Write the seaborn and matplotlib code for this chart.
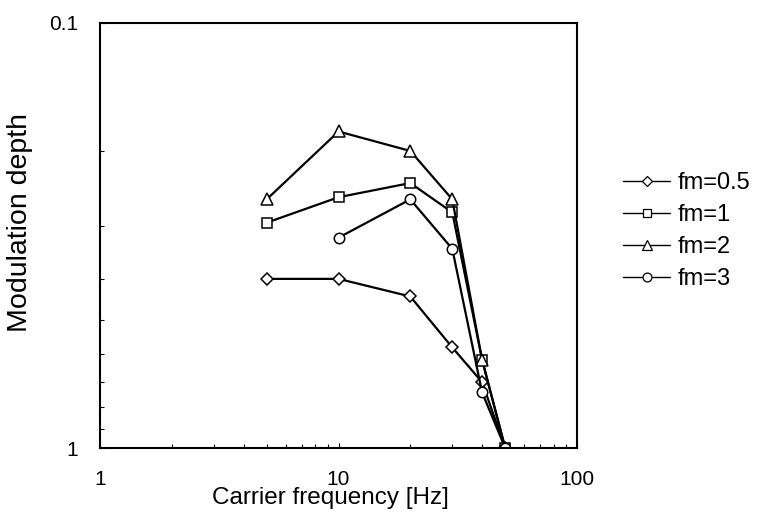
import matplotlib
matplotlib.use("Agg")
import matplotlib.pyplot as plt
from matplotlib.lines import Line2D
from matplotlib.ticker import FixedLocator, FixedFormatter, LogLocator, NullFormatter
import seaborn as sns
import pandas as pd

# Carrier frequencies [Hz]
carrier = [5, 10, 20, 30, 40, 50]
carrier_fm3 = [10, 20, 30, 40, 50]

# Modulation depth per modulation frequency
depth_fm05 = [0.40, 0.40, 0.44, 0.58, 0.70, 1.0]
depth_fm1 = [0.295, 0.257, 0.238, 0.279, 0.62, 1.0]
depth_fm2 = [0.26, 0.18, 0.20, 0.26, 0.62, 1.0]
depth_fm3 = [0.32, 0.26, 0.34, 0.74, 1.0]

series_labels = ["fm=0.5", "fm=1", "fm=2", "fm=3"]
x_ticks = [1, 10, 100]
x_tick_labels = ["1", "10", "100"]
y_ticks = [0.1, 1]
y_tick_labels = ["0.1", "1"]

sns.set_style("white")
plt.rcParams["font.family"] = ["Liberation Sans", "DejaVu Sans"]
plt.rcParams["text.color"] = "black"
plt.rcParams["axes.labelcolor"] = "black"
plt.rcParams["xtick.color"] = "black"
plt.rcParams["ytick.color"] = "black"

fig = plt.figure(figsize=(7.57, 5.12), dpi=100)
ax = fig.add_axes([100 / 757, 1 - 448 / 512, 477 / 757, 425 / 512])

series = [
    (carrier, depth_fm05, "D", 6.0),
    (carrier, depth_fm1, "s", 7.0),
    (carrier, depth_fm2, "^", 9.0),
    (carrier_fm3, depth_fm3, "o", 7.5),
]

handles = []
for (xs, ys, mk, ms), lab in zip(series, series_labels):
    df = pd.DataFrame({"carrier": xs, "depth": ys})
    sns.lineplot(data=df, x="carrier", y="depth", ax=ax, color="black",
                 linewidth=1.6, marker=mk, markersize=ms,
                 markerfacecolor="white", markeredgecolor="black",
                 markeredgewidth=1.1, legend=False)
    handles.append(Line2D([], [], color="black", linewidth=1.0, marker=mk,
                          markersize=ms * 0.85, markerfacecolor="white",
                          markeredgecolor="black", markeredgewidth=0.9,
                          label=lab))

ax.set_xscale("log")
ax.set_yscale("log")
ax.set_xlim(1, 100)
ax.set_ylim(1, 0.1)

ax.xaxis.set_major_locator(FixedLocator(x_ticks))
ax.xaxis.set_major_formatter(FixedFormatter(x_tick_labels))
ax.xaxis.set_minor_locator(LogLocator(base=10, subs=range(2, 10)))
ax.xaxis.set_minor_formatter(NullFormatter())
ax.yaxis.set_major_locator(FixedLocator(y_ticks))
ax.yaxis.set_major_formatter(FixedFormatter(y_tick_labels))
ax.yaxis.set_minor_locator(LogLocator(base=10, subs=range(2, 10)))
ax.yaxis.set_minor_formatter(NullFormatter())

ax.tick_params(which="both", direction="in", top=False, right=False,
               bottom=True, left=True, color="black", width=0.8,
               labelcolor="black")
ax.tick_params(which="major", length=3.8, pad=15.5, labelsize=15)
ax.tick_params(which="minor", length=3.2)

for sp in ax.spines.values():
    sp.set_visible(True)
    sp.set_color("black")
    sp.set_linewidth(1.5)

ax.set_xlabel("Carrier frequency [Hz]", fontsize=17.5, color="black")
ax.set_ylabel("Modulation depth", fontsize=20.5, color="black")
ax.xaxis.set_label_coords((330 - 100) / 477, (448 - 487) / 425)
ax.yaxis.set_label_coords((33 - 100) / 477, (448 - 222) / 425)

fig.legend(handles=handles, loc="center left",
           bbox_to_anchor=(623 / 757, 1 - 231 / 512), frameon=False,
           fontsize=17, handlelength=2.0, handletextpad=0.3,
           labelspacing=0.42, borderpad=0, borderaxespad=0,
           labelcolor="black")

fig.savefig("out.png", dpi=100, facecolor="white")
